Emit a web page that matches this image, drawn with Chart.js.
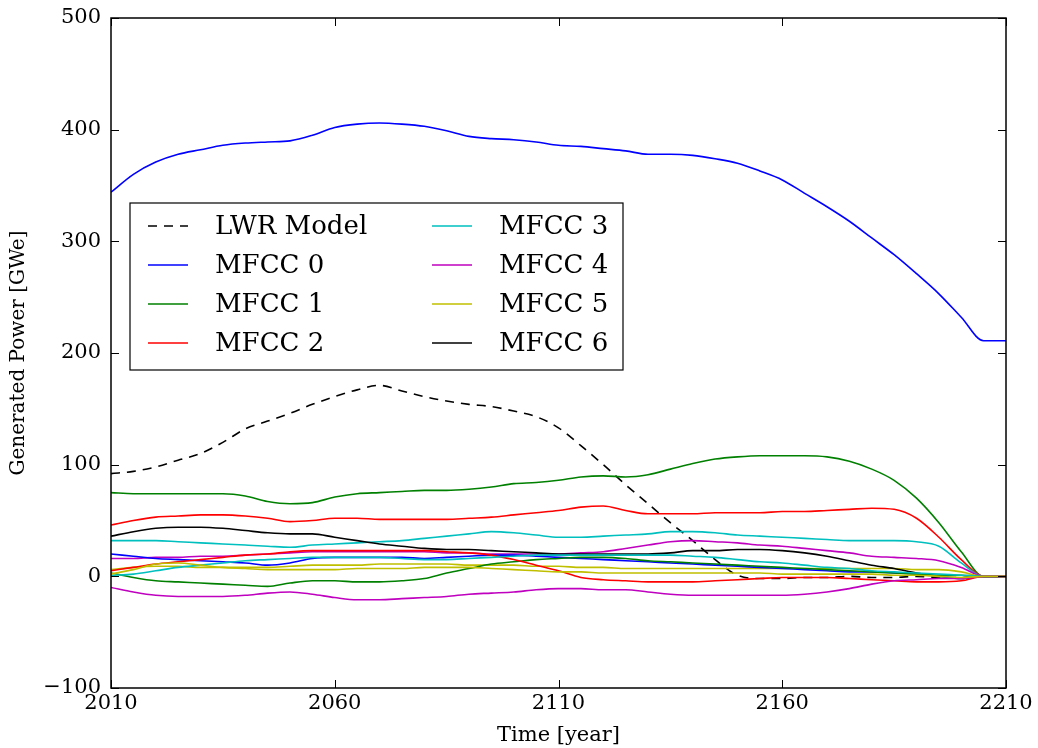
<!DOCTYPE html>
<html>
<head>
<meta charset="utf-8">
<script src="https://cdn.jsdelivr.net/npm/chart.js@4/dist/chart.umd.min.js"></script>
<style>
  html, body { margin: 0; padding: 0; background: #fff; }
  #wrap { width: 1038px; height: 748px; }
</style>
</head>
<body>
<div id="wrap"><canvas id="power-chart" width="1038" height="748"></canvas></div>
<script>
var years = [2010, 2015, 2020, 2025, 2030, 2035, 2040, 2045, 2050, 2055,
             2060, 2065, 2070, 2075, 2080, 2085, 2090, 2095, 2100, 2105,
             2110, 2115, 2120, 2125, 2130, 2135, 2140, 2145, 2150, 2155,
             2160, 2165, 2170, 2175, 2180, 2185, 2190, 2195, 2200, 2205, 2210];

var lwr = [92, 94, 98, 104, 110, 120, 132, 139, 146, 154, 161, 167, 171, 166, 161, 157, 154, 152, 148, 143,
           133, 117, 100, 82, 65, 48, 32, 15, 1, -2, -2, -1, -1, 0, -1, -1, 0, -1, -1, 0, 0];
var mfcc0 = [344, 360, 371, 378, 382, 386, 388, 389, 390, 395, 402, 405, 406, 405, 403, 399, 394, 392, 391, 389,
             386, 385, 383, 381, 378, 378, 377, 374, 370, 363, 355, 343, 331, 318, 303, 288, 271, 253, 232, 211, 211];
var mfcc1 = [75, 74, 74, 74, 74, 74, 72, 67, 65, 66, 71, 74, 75, 76, 77, 77, 78, 80, 83, 84,
             86, 89, 90, 89, 91, 96, 101, 105, 107, 108, 108, 108, 107, 103, 96, 86, 70, 48, 22, 0, 0];
var mfcc2 = [46, 50, 53, 54, 55, 55, 54, 52, 49, 50, 52, 52, 51, 51, 51, 51, 52, 53, 55, 57,
             59, 62, 63, 59, 56, 56, 56, 57, 57, 57, 58, 58, 59, 60, 61, 60, 52, 35, 15, 0, 0];
var mfcc3 = [32, 32, 32, 31, 30, 29, 28, 27, 26, 28, 29, 30, 31, 32, 34, 36, 38, 40, 39, 37,
             35, 35, 36, 37, 38, 40, 40, 39, 37, 36, 35, 34, 33, 32, 32, 32, 31, 27, 12, 0, 0];
var mfcc4 = [16, 16, 17, 17, 18, 18, 19, 20, 21, 22, 22, 22, 22, 22, 22, 21, 21, 20, 20, 20,
             20, 21, 22, 25, 28, 31, 32, 31, 30, 28, 27, 25, 23, 21, 18, 17, 16, 14, 8, 0, 0];
var mfcc5 = [6, 8, 9, 9, 8, 8, 8, 8, 9, 10, 10, 10, 11, 11, 11, 11, 10, 10, 10, 9,
             9, 8, 8, 7, 7, 7, 7, 7, 7, 7, 7, 7, 7, 7, 7, 7, 6, 6, 4, 0, 0];
var mfcc6 = [36, 40, 43, 44, 44, 43, 41, 39, 38, 38, 35, 32, 29, 27, 25, 24, 24, 23, 22, 21,
             20, 20, 20, 20, 20, 21, 23, 23, 24, 24, 23, 21, 18, 14, 10, 7, 3, 0, -2, 0, 0];
// the remaining coefficients are plotted without a legend entry
var mfcc7 = [20, 18, 16, 15, 14, 13, 12, 10, 12, 16, 17, 17, 17, 17, 16, 17, 18, 19, 19, 18,
             17, 16, 15, 14, 13, 12, 11, 10, 9, 8, 7, 6, 5, 4, 4, 3, 2, 0, -2, 0, 0];
var mfcc8 = [3, -1, -4, -5, -6, -7, -8, -9, -6, -4, -4, -5, -5, -4, -2, 3, 7, 11, 13, 15,
             16, 17, 17, 16, 14, 13, 12, 11, 10, 9, 8, 7, 6, 5, 4, 3, 2, 1, 1, 0, 0];
var mfcc9 = [5, 8, 11, 13, 15, 17, 19, 20, 22, 23, 23, 23, 23, 23, 23, 22, 21, 19, 15, 10,
             5, -1, -3, -4, -5, -5, -5, -4, -3, -2, -1, -1, -1, -2, -3, -4, -5, -5, -4, 0, 0];
var mfcc10 = [1, 2, 5, 8, 10, 12, 14, 15, 16, 17, 17, 17, 17, 16, 15, 15, 16, 17, 18, 19,
              19, 19, 19, 19, 19, 19, 18, 17, 15, 13, 12, 10, 8, 7, 5, 4, 3, 2, 1, 0, 0];
var mfcc11 = [-10, -14, -17, -18, -18, -18, -17, -15, -14, -16, -19, -21, -21, -20, -19, -18, -16, -15, -14, -12,
              -11, -11, -12, -12, -14, -16, -17, -17, -17, -17, -17, -16, -14, -11, -7, -4, -3, -2, -2, 0, 0];
var mfcc12 = [2, 6, 11, 12, 10, 8, 7, 6, 6, 6, 6, 7, 7, 7, 8, 8, 8, 7, 6, 5,
              4, 4, 3, 3, 3, 3, 3, 3, 3, 3, 2, 2, 2, 2, 2, 1, 1, 0, -1, 0, 0];

var seriesLabels = ['LWR Model', 'MFCC 0', 'MFCC 1', 'MFCC 2', 'MFCC 3', 'MFCC 4', 'MFCC 5', 'MFCC 6',
                    '', '', '', '', '', ''];
var seriesData = [lwr, mfcc0, mfcc1, mfcc2, mfcc3, mfcc4, mfcc5, mfcc6,
                  mfcc7, mfcc8, mfcc9, mfcc10, mfcc11, mfcc12];
var xTicks = [2010, 2060, 2110, 2160, 2210];
var yTicks = [-100, 0, 100, 200, 300, 400, 500];

// old matplotlib colour cycle b g r c m y k
var cycle = ['#0000ff', '#008000', '#ff0000', '#00bfbf', '#bf00bf', '#bfbf00', '#000000'];
var serif = '"DejaVu Serif", serif';

var datasets = seriesData.map(function(values, i) {
    var color = i == 0 ? '#000000' : cycle[(i - 1) % cycle.length];
    return {
        label: seriesLabels[i],
        data: values.map(function(v, j) { return {x: years[j], y: v}; }),
        borderColor: color,
        backgroundColor: color,
        borderWidth: 1.6,
        borderDash: i == 0 ? [9, 7] : [],
        pointRadius: 0,
        fill: false,
        cubicInterpolationMode: 'monotone',
        order: seriesData.length - i
    };
});

// frame, inward ticks and the boxed legend, drawn like matplotlib does
var mplDecor = {
    id: 'mplDecor',
    afterDraw: function(chart) {
        var ctx = chart.ctx, a = chart.chartArea;
        var xs = chart.scales.x, ys = chart.scales.y;
        ctx.save();
        ctx.strokeStyle = '#000';
        ctx.lineWidth = 1;
        ctx.beginPath();
        xTicks.forEach(function(t) {
            var px = Math.round(xs.getPixelForValue(t)) + 0.5;
            ctx.moveTo(px, a.bottom); ctx.lineTo(px, a.bottom - 8);
            ctx.moveTo(px, a.top); ctx.lineTo(px, a.top + 8);
        });
        yTicks.forEach(function(t) {
            var py = Math.round(ys.getPixelForValue(t)) + 0.5;
            ctx.moveTo(a.left, py); ctx.lineTo(a.left + 8, py);
            ctx.moveTo(a.right, py); ctx.lineTo(a.right - 8, py);
        });
        ctx.stroke();
        ctx.lineWidth = 1.5;
        ctx.strokeRect(a.left, a.top, a.right - a.left, a.bottom - a.top);

        // legend box
        var bx = a.left + 19, by = a.top + 185, bw = 493, bh = 167;
        ctx.fillStyle = '#fff';
        ctx.fillRect(bx, by, bw, bh);
        ctx.lineWidth = 1.2;
        ctx.strokeRect(bx, by, bw, bh);
        ctx.font = '26px ' + serif;
        ctx.textBaseline = 'middle';
        ctx.textAlign = 'left';
        var items = chart.data.datasets.filter(function(d) { return d.label; });
        items.forEach(function(d, k) {
            var col = Math.floor(k / 4), row = k % 4;
            var lx = bx + 18 + col * 284, ly = by + 23 + row * 39;
            ctx.strokeStyle = d.borderColor;
            ctx.lineWidth = 1.5;
            ctx.setLineDash(d.borderDash);
            ctx.beginPath();
            ctx.moveTo(lx, ly); ctx.lineTo(lx + 40, ly);
            ctx.stroke();
            ctx.setLineDash([]);
            ctx.fillStyle = '#000';
            ctx.fillText(d.label, lx + 67, ly + 1);
        });
        ctx.restore();
    }
};

new Chart(document.getElementById('power-chart'), {
    type: 'line',
    data: { datasets: datasets },
    options: {
        responsive: false,
        animation: false,
        layout: { padding: { top: 18, right: 32, left: 0, bottom: 0 } },
        plugins: { legend: { display: false }, tooltip: { enabled: false } },
        scales: {
            x: {
                type: 'linear',
                min: 2010, max: 2210,
                afterBuildTicks: function(s) { s.ticks = xTicks.map(function(v) { return {value: v}; }); },
                afterFit: function(s) { s.height = 60; s.paddingLeft = 0; s.paddingRight = 0; },
                ticks: { autoSkip: false, maxRotation: 0, padding: 3, color: '#000',
                         font: { family: serif, size: 21 },
                         callback: function(v) { return String(v); } },
                grid: { display: false, drawTicks: false },
                border: { display: false },
                title: { display: true, text: 'Time [year]', color: '#000', padding: { top: 0, bottom: 0 },
                         font: { family: serif, size: 21 } }
            },
            y: {
                min: -100, max: 500,
                afterBuildTicks: function(s) { s.ticks = yTicks.map(function(v) { return {value: v}; }); },
                afterFit: function(s) { s.width = 111; s.paddingTop = 0; s.paddingBottom = 0; },
                ticks: { padding: 10, color: '#000', font: { family: serif, size: 21 },
                         callback: function(v) { return String(v).replace('-', '\u2212'); } },
                grid: { display: false, drawTicks: false },
                border: { display: false },
                title: { display: true, text: 'Generated Power [GWe]', color: '#000', padding: { top: 7, bottom: 0 },
                         font: { family: serif, size: 20 } }
            }
        }
    },
    plugins: [mplDecor]
});
</script>
</body>
</html>
